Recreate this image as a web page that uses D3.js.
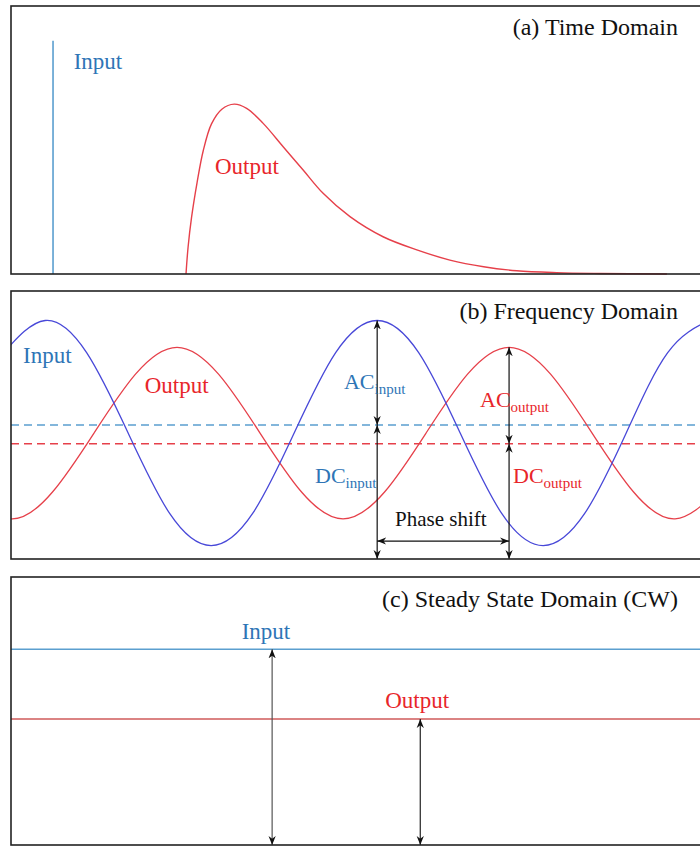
<!DOCTYPE html>
<html>
<head>
<meta charset="utf-8">
<script src="https://cdn.jsdelivr.net/npm/d3@7/dist/d3.min.js"></script>
<style>
body { margin: 0; background: #fff; }
text { font-family: "Liberation Serif", "Times New Roman", serif; }
</style>
</head>
<body>
<svg id="chart" width="700" height="846"></svg>
<script>
// (a) time domain: impulse in, broadened pulse out
var impulseTime = 6.1;
var impulseHeight = 0.87;
var pulseTime = [25.4, 25.7, 26.2, 27.0, 27.9, 29.1, 30.6, 32.4, 34.2, 36.6, 39.5, 42.4, 45.3, 49.2, 54.0, 58.9, 63.7, 68.6, 73.4, 79.2, 85.5, 95.2];
var pulseValue = [0, 0.10, 0.21, 0.34, 0.46, 0.56, 0.615, 0.634, 0.618, 0.562, 0.475, 0.388, 0.301, 0.214, 0.139, 0.09, 0.052, 0.027, 0.012, 0.005, 0.002, 0];

// (b) frequency domain: phase in degrees
var inputPhase = [-45, 0, 45, 90, 135, 180, 225, 270, 315, 360, 405, 450, 495, 540, 585, 630, 675, 720];
var inputWave  = [0.77, 0.89, 0.77, 0.47, 0.17, 0.05, 0.17, 0.47, 0.77, 0.89, 0.77, 0.47, 0.17, 0.05, 0.17, 0.47, 0.77, 0.89];
var outputPhase = [-82, -37, 8, 53, 98, 143, 188, 233, 278, 323, 368, 413, 458, 503, 548, 593, 638, 683, 728];
var outputWave  = [0.25, 0.15, 0.25, 0.47, 0.69, 0.79, 0.69, 0.47, 0.25, 0.15, 0.25, 0.47, 0.69, 0.79, 0.69, 0.47, 0.25, 0.15, 0.25];
var dcInput = 0.50, dcOutput = 0.43;
var inputPeakPhase = 360, outputPeakPhase = 503;
var acInput = 0.89, acOutput = 0.79;

// (c) steady state
var steadyInput = 0.73, steadyOutput = 0.47;
var steadyArrowTime = [37.9, 59.4];

var textBlue = "#2e75b6", lineBlue = "#5b9fcf", waveBlue = "#4848d8";
var textRed = "#e8252a", waveRed = "#e6404a", steadyRed = "#cf5a5a";

var svg = d3.select("#chart");

var panels = [
    {top: 6, bottom: 274},
    {top: 291, bottom: 559},
    {top: 577, bottom: 845}
];

var x = d3.scaleLinear().domain([0, 100]).range([11, 700]);
var xPhase = d3.scaleLinear().domain([-37, 710]).range([11, 700]);
var yScales = panels.map(function(p) {
    return d3.scaleLinear().domain([0, 1]).range([p.bottom, p.top]);
});

var defs = svg.append("defs");
defs.append("marker")
    .attr("id", "arr")
    .attr("viewBox", "0 -5 10 10")
    .attr("refX", 10).attr("refY", 0)
    .attr("markerUnits", "userSpaceOnUse")
    .attr("markerWidth", 9).attr("markerHeight", 9)
    .attr("orient", "auto-start-reverse")
    .append("path")
    .attr("d", "M0,-4L10,0L0,4L3,0Z")
    .attr("fill", "#111");

defs.append("clipPath").attr("id", "clipB")
    .append("rect")
    .attr("x", 11).attr("y", panels[1].top)
    .attr("width", 700).attr("height", panels[1].bottom - panels[1].top);

function arrow(g, x1, y1, x2, y2, color) {
    g.append("line")
        .attr("x1", x1).attr("y1", y1).attr("x2", x2).attr("y2", y2)
        .attr("stroke", color || "#111")
        .attr("stroke-width", 1.2)
        .attr("marker-start", "url(#arr)")
        .attr("marker-end", "url(#arr)");
}

function title(txt, y) {
    svg.append("text")
        .attr("x", 678).attr("y", y)
        .attr("text-anchor", "end")
        .attr("font-size", 24)
        .attr("fill", "#111")
        .text(txt);
}

function label(txt, px, py, color, anchor) {
    svg.append("text")
        .attr("x", px).attr("y", py)
        .attr("text-anchor", anchor || "start")
        .attr("font-size", 23)
        .attr("fill", color)
        .text(txt);
}

function subLabel(main, sub, px, py, color) {
    var t = svg.append("text")
        .attr("x", px).attr("y", py)
        .attr("font-size", 22)
        .attr("fill", color);
    t.append("tspan").text(main);
    t.append("tspan").attr("font-size", 15).attr("dy", 5).text(sub);
}

// ---------- panel (a)
var ya = yScales[0];
svg.append("line")
    .attr("x1", x(impulseTime)).attr("x2", x(impulseTime))
    .attr("y1", ya(0)).attr("y2", ya(impulseHeight))
    .attr("stroke", lineBlue).attr("stroke-width", 1.6);

svg.append("path")
    .datum(d3.zip(pulseTime, pulseValue))
    .attr("fill", "none")
    .attr("stroke", waveRed)
    .attr("stroke-width", 1.4)
    .attr("d", d3.line()
        .x(function(d) { return x(d[0]); })
        .y(function(d) { return ya(d[1]); })
        .curve(d3.curveCatmullRom.alpha(0.5)));

label("Input", x(9.1), ya(0.765), textBlue);
label("Output", x(29.6), ya(0.373), textRed);
title("(a) Time Domain", 35);

// ---------- panel (b)
var yb = yScales[1];
var gb = svg.append("g").attr("clip-path", "url(#clipB)");

[[dcInput, lineBlue], [dcOutput, waveRed]].forEach(function(d) {
    gb.append("line")
        .attr("x1", 11).attr("x2", 700)
        .attr("y1", yb(d[0])).attr("y2", yb(d[0]))
        .attr("stroke", d[1]).attr("stroke-width", 1.3)
        .attr("stroke-dasharray", "8,5");
});

var phaseLine = d3.line()
    .x(function(d) { return xPhase(d[0]); })
    .y(function(d) { return yb(d[1]); })
    .curve(d3.curveNatural);

gb.append("path")
    .datum(d3.zip(outputPhase, outputWave))
    .attr("fill", "none").attr("stroke", waveRed).attr("stroke-width", 1.3)
    .attr("d", phaseLine);
gb.append("path")
    .datum(d3.zip(inputPhase, inputWave))
    .attr("fill", "none").attr("stroke", waveBlue).attr("stroke-width", 1.3)
    .attr("d", phaseLine);

arrow(svg, xPhase(inputPeakPhase), yb(acInput), xPhase(inputPeakPhase), yb(dcInput));
arrow(svg, xPhase(inputPeakPhase), yb(dcInput), xPhase(inputPeakPhase), yb(0));
arrow(svg, xPhase(outputPeakPhase), yb(acOutput), xPhase(outputPeakPhase), yb(dcOutput));
arrow(svg, xPhase(outputPeakPhase), yb(dcOutput), xPhase(outputPeakPhase), yb(0));
arrow(svg, xPhase(inputPeakPhase), yb(0.067), xPhase(outputPeakPhase), yb(0.067));

label("Input", xPhase(-24), yb(0.73), textBlue);
label("Output", xPhase(108), yb(0.618), textRed);
subLabel("AC", "input", xPhase(324), yb(0.633), textBlue);
subLabel("DC", "input", xPhase(292.6), yb(0.285), textBlue);
subLabel("AC", "output", xPhase(471.5), yb(0.569), textRed);
subLabel("DC", "output", xPhase(507.3), yb(0.285), textRed);
svg.append("text")
    .attr("x", xPhase(429)).attr("y", yb(0.124))
    .attr("text-anchor", "middle")
    .attr("font-size", 21)
    .attr("fill", "#111")
    .text("Phase shift");
title("(b) Frequency Domain", 319);

// ---------- panel (c)
var yc = yScales[2];
svg.append("line")
    .attr("x1", 11).attr("x2", 700)
    .attr("y1", yc(steadyInput)).attr("y2", yc(steadyInput))
    .attr("stroke", lineBlue).attr("stroke-width", 1.5);
svg.append("line")
    .attr("x1", 11).attr("x2", 700)
    .attr("y1", yc(steadyOutput)).attr("y2", yc(steadyOutput))
    .attr("stroke", steadyRed).attr("stroke-width", 1.5);

arrow(svg, x(steadyArrowTime[0]), yc(steadyInput), x(steadyArrowTime[0]), yc(0), "#555");
arrow(svg, x(steadyArrowTime[1]), yc(steadyOutput), x(steadyArrowTime[1]), yc(0), "#222");

label("Input", x(37.0), yc(0.769), textBlue, "middle");
label("Output", x(54.3), yc(0.511), textRed);
title("(c) Steady State Domain (CW)", 607);

// frames (right edge runs off the picture)
panels.forEach(function(p) {
    svg.append("rect")
        .attr("x", 11).attr("y", p.top)
        .attr("width", 700).attr("height", p.bottom - p.top)
        .attr("fill", "none")
        .attr("stroke", "#222")
        .attr("stroke-width", 1.6);
});
</script>
</body>
</html>
